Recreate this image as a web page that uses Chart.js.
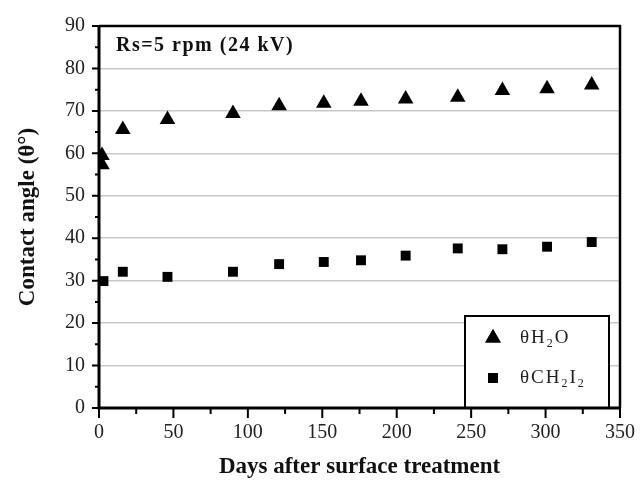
<!DOCTYPE html>
<html>
<head>
<meta charset="utf-8">
<script src="https://cdn.jsdelivr.net/npm/chart.js@4/dist/chart.umd.min.js"></script>
<style>
  html, body { margin: 0; padding: 0; background: #fff; }
  #wrap { width: 640px; height: 491px; }
</style>
</head>
<body>
<div id="wrap"><canvas id="angle"></canvas></div>
<script>
// values
const daysH2O = [2, 2, 16, 46, 90, 121, 151, 176, 206, 241, 271, 301, 331]
const angleH2O = [59.5, 57.3, 65.6, 68.0, 69.4, 71.2, 71.8, 72.3, 72.8, 73.2, 74.8, 75.2, 76.1]
const daysCH2I2 = [3, 16, 46, 90, 121, 151, 176, 206, 241, 271, 301, 331]
const angleCH2I2 = [29.9, 32.1, 30.9, 32.1, 33.9, 34.4, 34.8, 35.9, 37.6, 37.4, 38.0, 39.1]
const seriesNames = ['θH2O', 'θCH2I2']
const xTicks = [0, 50, 100, 150, 200, 250, 300, 350]
const yTicks = [0, 10, 20, 30, 40, 50, 60, 70, 80, 90]
const note = 'Rs=5 rpm (24 kV)'

const serif = "'Liberation Serif', 'DejaVu Serif', serif"

function toPoints(xs, ys) {
    return xs.map((d, i) => ({ x: d, y: ys[i] }))
}

// draws text with digits as subscripts (H2O -> H₂O)
function drawChem(ctx, text, x, y) {
    for (const ch of text) {
        if (/[0-9]/.test(ch)) {
            ctx.font = '12px ' + serif
            ctx.fillText(ch, x, y + 6)
        } else {
            ctx.font = '19px ' + serif
            ctx.fillText(ch, x, y)
        }
        x += ctx.measureText(ch).width + 2
    }
}

const framePlugin = {
    id: 'frame',
    afterDraw(chart) {
        const ctx = chart.ctx
        const a = chart.chartArea
        const xs = chart.scales.x
        const ys = chart.scales.y
        ctx.save()
        ctx.strokeStyle = '#000'
        ctx.lineWidth = 2
        ctx.beginPath()
        for (let v = yTicks[0]; v <= yTicks[yTicks.length - 1]; v += 5) {
            const py = ys.getPixelForValue(v)
            const len = v % 10 ? 4 : 7
            ctx.moveTo(a.left - len, py)
            ctx.lineTo(a.left, py)
        }
        for (let v = xTicks[0]; v <= xTicks[xTicks.length - 1]; v += 25) {
            const px = xs.getPixelForValue(v)
            const len = v % 50 ? 6 : 10
            ctx.moveTo(px, a.bottom)
            ctx.lineTo(px, a.bottom + len)
        }
        ctx.stroke()

        // box top and right
        ctx.lineWidth = 2.5
        ctx.beginPath()
        ctx.moveTo(a.left, a.top)
        ctx.lineTo(a.right, a.top)
        ctx.lineTo(a.right, a.bottom)
        ctx.stroke()

        // note
        ctx.fillStyle = '#111'
        ctx.font = 'bold 20px ' + serif
        ctx.letterSpacing = '1.5px'
        ctx.textBaseline = 'middle'
        ctx.fillText(note, a.left + 17, a.top + 20)
        ctx.letterSpacing = '0px'

        // legend box
        const bw = 144, bh = 92
        const bx = a.right - 11 - bw
        const by = a.bottom - bh
        ctx.fillStyle = '#fff'
        ctx.fillRect(bx, by, bw, bh)
        ctx.lineWidth = 2
        ctx.strokeRect(bx, by, bw, bh)
        chart.data.datasets.forEach((ds, i) => {
            const cy = by + 22 + i * 40
            ctx.fillStyle = '#000'
            Chart.helpers.drawPoint(ctx, {
                pointStyle: ds.pointStyle,
                radius: ds.pointRadius,
                borderWidth: 0
            }, bx + 28, cy)
            ctx.fill()
            ctx.fillStyle = '#222'
            drawChem(ctx, ds.label, bx + 55, cy)
        })

        // axis lines
        ctx.lineWidth = 3
        ctx.beginPath()
        ctx.moveTo(a.left, a.top)
        ctx.lineTo(a.left, a.bottom)
        ctx.lineTo(a.right, a.bottom)
        ctx.stroke()
        ctx.restore()
    }
}

new Chart(document.getElementById('angle'), {
    type: 'scatter',
    data: {
        datasets: [
            {
                label: seriesNames[0],
                data: toPoints(daysH2O, angleH2O),
                pointStyle: 'triangle',
                pointRadius: 9,
                backgroundColor: '#000',
                borderColor: '#000',
                borderWidth: 0
            },
            {
                label: seriesNames[1],
                data: toPoints(daysCH2I2, angleCH2I2),
                pointStyle: 'rect',
                pointRadius: 7,
                backgroundColor: '#000',
                borderColor: '#000',
                borderWidth: 0
            }
        ]
    },
    options: {
        responsive: true,
        maintainAspectRatio: false,
        animation: false,
        layout: { padding: { top: 24, right: 20, left: 0, bottom: 0 } },
        plugins: {
            legend: { display: false },
            tooltip: { enabled: false }
        },
        scales: {
            x: {
                type: 'linear',
                min: xTicks[0],
                max: xTicks[xTicks.length - 1],
                afterBuildTicks: s => { s.ticks = xTicks.map(v => ({ value: v })) },
                afterFit: s => {
                    s.height = 83
                    s.paddingLeft = 0
                    s.paddingRight = 0
                },
                grid: { display: false, drawTicks: false },
                border: { display: false },
                ticks: {
                    padding: 13,
                    color: '#222',
                    maxRotation: 0,
                    font: { family: serif, size: 20 }
                },
                title: {
                    display: true,
                    text: 'Days after surface treatment',
                    color: '#111',
                    font: { family: serif, size: 23, weight: 'bold' },
                    padding: { top: 0, bottom: 10 }
                }
            },
            y: {
                type: 'linear',
                min: yTicks[0],
                max: yTicks[yTicks.length - 1],
                afterBuildTicks: s => { s.ticks = yTicks.map(v => ({ value: v })) },
                afterFit: s => { s.width = 99 },
                grid: { color: '#c8c8c8', lineWidth: 1.5, drawTicks: false },
                border: { display: false },
                ticks: {
                    padding: 14,
                    color: '#222',
                    font: { family: serif, size: 20 }
                },
                title: {
                    display: true,
                    text: 'Contact angle (θ°)',
                    color: '#111',
                    font: { family: serif, size: 23, weight: 'bold' },
                    padding: { top: 14, bottom: 0 }
                }
            }
        }
    },
    plugins: [framePlugin]
})
</script>
</body>
</html>
